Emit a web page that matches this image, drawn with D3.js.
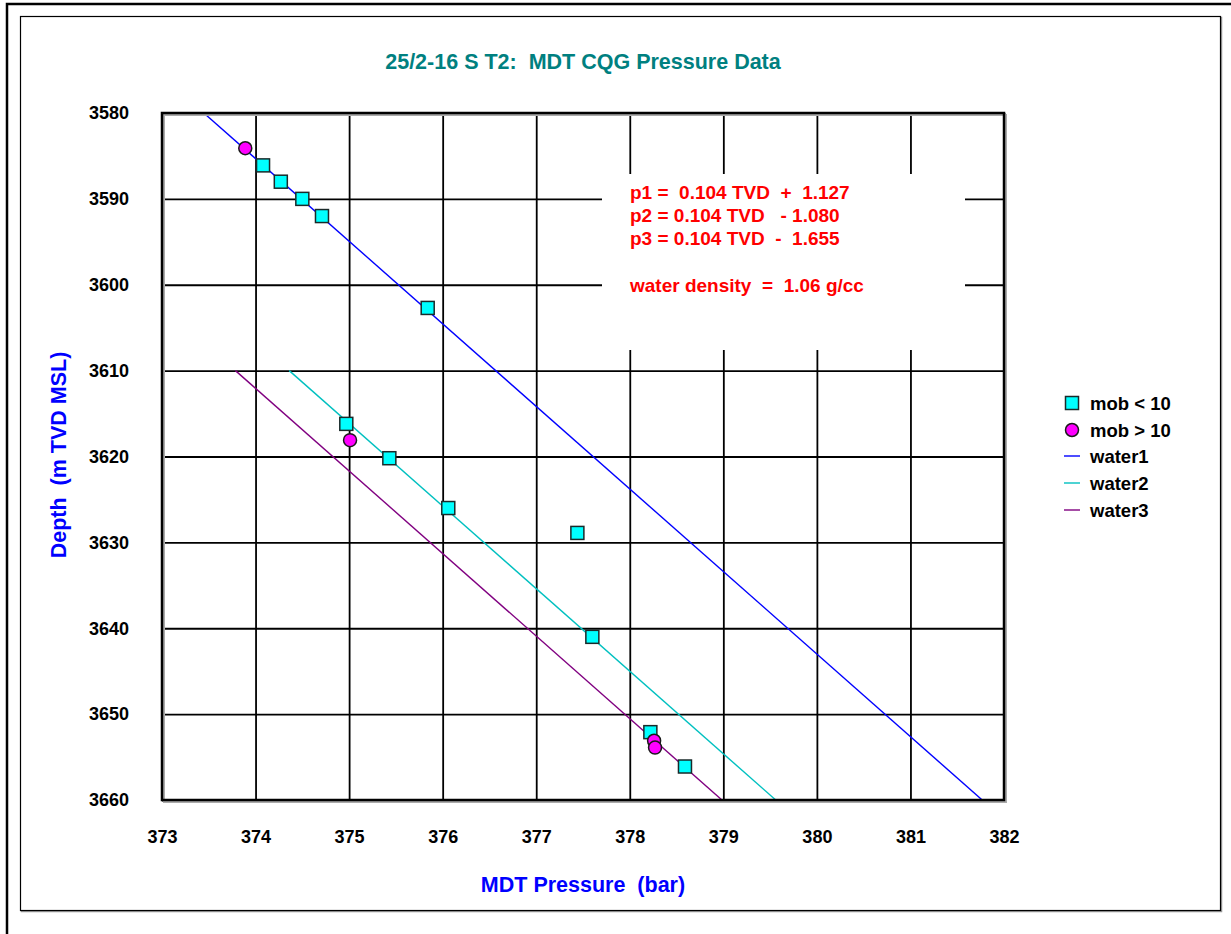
<!DOCTYPE html>
<html>
<head>
<meta charset="utf-8">
<script src="https://cdn.jsdelivr.net/npm/d3@7"></script>
<style>
  html, body { margin: 0; padding: 0; background: #fff; }
  svg text { font-family: "Liberation Sans", Arial, sans-serif; font-weight: bold; white-space: pre; }
</style>
</head>
<body>
<svg id="chart" width="1231" height="934"></svg>
<script>
// ---- data ----
const xTicks = [373, 374, 375, 376, 377, 378, 379, 380, 381, 382];
const yTicks = [3580, 3590, 3600, 3610, 3620, 3630, 3640, 3650, 3660];

// MDT points, mobility < 10 (squares)
const mobLowPressure = [374.08, 374.27, 374.50, 374.71, 375.84, 374.97, 375.43, 376.06, 377.44, 377.60, 378.22, 378.59];
const mobLowDepth    = [3586.1, 3588.0, 3590.0, 3592.0, 3602.7, 3616.2, 3620.2, 3626.0, 3628.9, 3641.0, 3652.1, 3656.1];

// MDT points, mobility > 10 (circles)
const mobHighPressure = [373.89, 375.01, 378.26, 378.27];
const mobHighDepth    = [3584.1, 3618.1, 3653.1, 3653.9];

// Water gradient lines: p = 0.104 TVD + c
const water1Depth = [3580, 3660];
const water1Pressure = [373.447, 381.767];   // c = +1.127
const water2Depth = [3610, 3660];
const water2Pressure = [374.360, 379.560];   // c = -1.080
const water3Depth = [3610, 3660];
const water3Pressure = [373.785, 378.985];   // c = -1.655

const equationLines = [
  "p1 =  0.104 TVD  +  1.127",
  "p2 = 0.104 TVD   - 1.080",
  "p3 = 0.104 TVD  -  1.655",
  "",
  "water density  =  1.06 g/cc"
];

const legendLabels = ["mob < 10", "mob > 10", "water1", "water2", "water3"];

// ---- layout ----
const svg = d3.select("#chart");
const plot = { left: 162, top: 113, right: 1004, bottom: 800 };

const x = d3.scaleLinear().domain([373, 382]).range([plot.left, plot.right]);
const y = d3.scaleLinear().domain([3580, 3660]).range([plot.top, plot.bottom]);

// outer page frames
svg.append("path")
  .attr("d", "M7,934 V4 H1231")
  .attr("fill", "none").attr("stroke", "#000").attr("stroke-width", 2.5);
svg.append("rect")
  .attr("x", 21.5).attr("y", 17.5).attr("width", 1200).attr("height", 894)
  .attr("fill", "none").attr("stroke", "#999").attr("stroke-width", 1.5);
svg.append("rect")
  .attr("x", 20.5).attr("y", 16.5).attr("width", 1200).attr("height", 894)
  .attr("fill", "#fff").attr("stroke", "#000").attr("stroke-width", 1.2);

// title
svg.append("text")
  .attr("x", 583).attr("y", 69)
  .attr("text-anchor", "middle")
  .attr("fill", "#008080")
  .attr("font-size", 21.5)
  .text("25/2-16 S T2:  MDT CQG Pressure Data");

// gridlines
const grid = svg.append("g").attr("class", "grid");
grid.append("g")
  .attr("transform", `translate(0,${plot.bottom})`)
  .call(d3.axisBottom(x).tickValues(xTicks).tickSize(-(plot.bottom - plot.top)).tickFormat(""))
  .call(g => g.select(".domain").remove())
  .call(g => g.selectAll("line").attr("stroke", "#000").attr("stroke-width", 1.8));
grid.append("g")
  .attr("transform", `translate(${plot.left},0)`)
  .call(d3.axisLeft(y).tickValues(yTicks).tickSize(-(plot.right - plot.left)).tickFormat(""))
  .call(g => g.select(".domain").remove())
  .call(g => g.selectAll("line").attr("stroke", "#000").attr("stroke-width", 1.8));

// annotation box with equations
svg.append("rect")
  .attr("x", 602).attr("y", 174).attr("width", 363).attr("height", 176)
  .attr("fill", "#fff");
const eq = svg.append("text")
  .attr("fill", "#ff0000")
  .attr("font-size", 19);
equationLines.forEach((t, i) => {
  eq.append("tspan")
    .attr("x", 630)
    .attr("y", 198.5 + i * 23.3)
    .text(t);
});

// water lines
const lineGen = d3.line().x(d => x(d[0])).y(d => y(d[1]));
const waterSeries = [
  { p: water1Pressure, d: water1Depth, color: "#0000ff" },
  { p: water2Pressure, d: water2Depth, color: "#00c0c0" },
  { p: water3Pressure, d: water3Depth, color: "#800080" }
];
waterSeries.forEach(s => {
  svg.append("path")
    .datum(d3.zip(s.p, s.d))
    .attr("d", lineGen)
    .attr("fill", "none")
    .attr("stroke", s.color)
    .attr("stroke-width", 1.4);
});

// markers
const sq = 13;
svg.append("g").selectAll("rect")
  .data(d3.zip(mobLowPressure, mobLowDepth))
  .join("rect")
  .attr("x", d => x(d[0]) - sq / 2)
  .attr("y", d => y(d[1]) - sq / 2)
  .attr("width", sq).attr("height", sq)
  .attr("fill", "#00ffff")
  .attr("stroke", "#1a2a2a").attr("stroke-width", 1.5);

svg.append("g").selectAll("circle")
  .data(d3.zip(mobHighPressure, mobHighDepth))
  .join("circle")
  .attr("cx", d => x(d[0]))
  .attr("cy", d => y(d[1]))
  .attr("r", 6.5)
  .attr("fill", "#ff00ff")
  .attr("stroke", "#1a1a1a").attr("stroke-width", 1.5);

// plot frame with shadow
svg.append("rect")
  .attr("x", plot.left + 2).attr("y", plot.top + 2)
  .attr("width", plot.right - plot.left).attr("height", plot.bottom - plot.top)
  .attr("fill", "none").attr("stroke", "#aaa").attr("stroke-width", 2);
svg.append("rect")
  .attr("x", plot.left).attr("y", plot.top)
  .attr("width", plot.right - plot.left).attr("height", plot.bottom - plot.top)
  .attr("fill", "none").attr("stroke", "#000").attr("stroke-width", 2.5);

// axis tick labels
svg.append("g")
  .attr("transform", `translate(0,${plot.bottom})`)
  .call(d3.axisBottom(x).tickValues(xTicks).tickSize(0).tickPadding(30).tickFormat(d3.format("d")))
  .call(g => g.select(".domain").remove())
  .call(g => g.selectAll("text")
    .attr("fill", "#000").attr("font-size", 18)
    .attr("font-family", "Liberation Sans, Arial, sans-serif").attr("font-weight", "bold"));
svg.append("g")
  .attr("transform", `translate(${plot.left},0)`)
  .call(d3.axisLeft(y).tickValues(yTicks).tickSize(0).tickPadding(33).tickFormat(d3.format("d")))
  .call(g => g.select(".domain").remove())
  .call(g => g.selectAll("text")
    .attr("fill", "#000").attr("font-size", 18)
    .attr("font-family", "Liberation Sans, Arial, sans-serif").attr("font-weight", "bold"));

// axis titles
svg.append("text")
  .attr("x", 583).attr("y", 892)
  .attr("text-anchor", "middle")
  .attr("fill", "#0000ff")
  .attr("font-size", 21.5)
  .text("MDT Pressure  (bar)");
svg.append("text")
  .attr("transform", "translate(66,455) rotate(-90)")
  .attr("text-anchor", "middle")
  .attr("fill", "#0000ff")
  .attr("font-size", 21.5)
  .text("Depth  (m TVD MSL)");

// legend
const legend = svg.append("g").attr("transform", "translate(1072,0)");
const rowY = [403, 430, 456, 483, 510];
legend.append("rect")
  .attr("x", -6.5).attr("y", rowY[0] - 6.5).attr("width", 13).attr("height", 13)
  .attr("fill", "#00ffff").attr("stroke", "#1a2a2a").attr("stroke-width", 1.5);
legend.append("circle")
  .attr("cx", 0).attr("cy", rowY[1]).attr("r", 6.5)
  .attr("fill", "#ff00ff").attr("stroke", "#1a1a1a").attr("stroke-width", 1.5);
waterSeries.forEach((s, i) => {
  legend.append("line")
    .attr("x1", -8).attr("x2", 8)
    .attr("y1", rowY[i + 2]).attr("y2", rowY[i + 2])
    .attr("stroke", s.color).attr("stroke-width", 1.4);
});
legendLabels.forEach((t, i) => {
  legend.append("text")
    .attr("x", 18).attr("y", rowY[i])
    .attr("dy", "0.36em")
    .attr("font-size", 18.5)
    .attr("fill", "#000")
    .text(t);
});
</script>
</body>
</html>
